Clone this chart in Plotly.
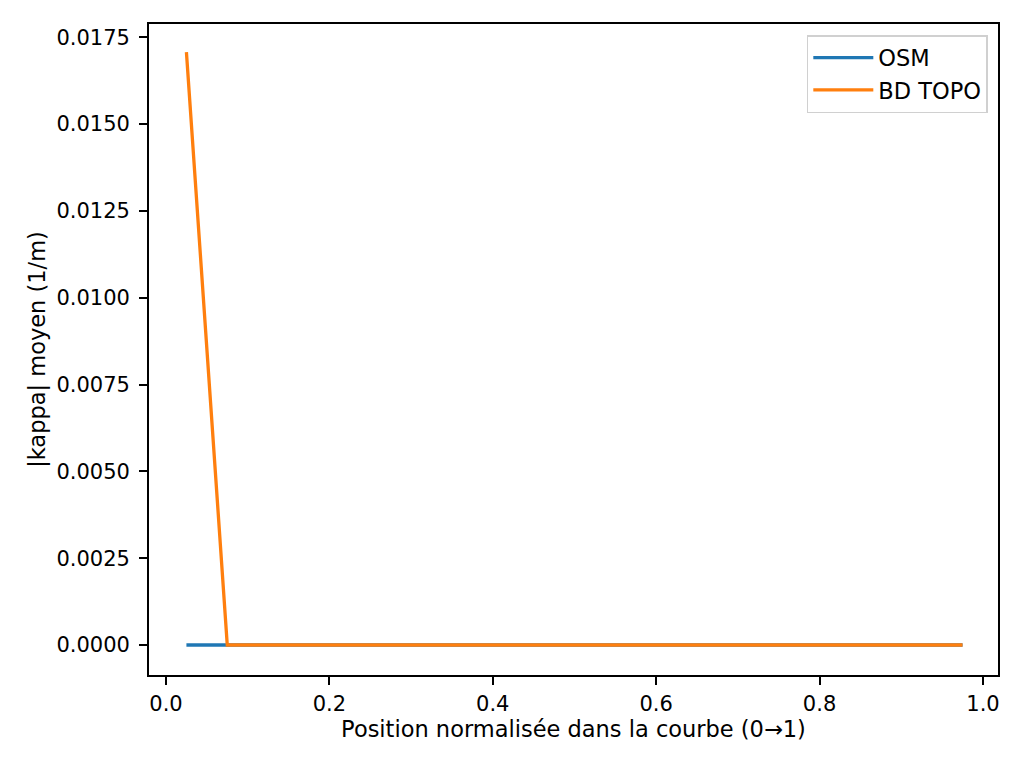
import plotly.graph_objects as go

positions = [0.025, 0.075, 0.125, 0.175, 0.225, 0.275, 0.325, 0.375, 0.425, 0.475,
             0.525, 0.575, 0.625, 0.675, 0.725, 0.775, 0.825, 0.875, 0.925, 0.975]
osm_kappa = [0.0] * 20
bdtopo_kappa = [0.01707] + [0.0] * 19

x_ticks = [0.0, 0.2, 0.4, 0.6, 0.8, 1.0]
y_ticks = [0.0, 0.0025, 0.005, 0.0075, 0.01, 0.0125, 0.015, 0.0175]

FONT = "DejaVu Sans"
FS_TICK = 21
FS_TEXT = 22.5
fig = go.Figure()
fig.add_trace(go.Scatter(x=positions, y=osm_kappa, mode="lines", name="OSM",
                         line=dict(color="#1f77b4", width=3.3)))
fig.add_trace(go.Scatter(x=positions, y=bdtopo_kappa, mode="lines", name="BD TOPO",
                         line=dict(color="#ff7f0e", width=3.3)))

axis_common = dict(showgrid=False, zeroline=False, showline=True, linecolor="black",
                   linewidth=1.8, mirror=True, ticks="outside", ticklen=8, tickwidth=1.8,
                   tickcolor="black", tickfont=dict(family=FONT, size=FS_TICK, color="black"))

fig.update_xaxes(range=[-0.0208, 1.0184], tickvals=x_ticks, tickformat=".1f",
                 title=dict(text="Position normalisée dans la courbe (0→1)",
                            font=dict(family=FONT, size=FS_TEXT, color="black"), standoff=6),
                 ticklabelstandoff=1, **axis_common)
fig.update_yaxes(range=[-0.000864, 0.01788], tickvals=y_ticks, tickformat=".4f",
                 title=dict(text="|kappa| moyen (1/m)",
                            font=dict(family=FONT, size=FS_TEXT, color="black"), standoff=5),
                 ticklabelstandoff=5, **axis_common)

fig.update_layout(
    width=1016, height=760,
    margin=dict(l=141, r=26, t=16, b=93),
    plot_bgcolor="white", paper_bgcolor="white",
    font=dict(family=FONT, size=FS_TEXT, color="black"),
    legend=dict(x=0.988, y=0.983, xanchor="right", yanchor="top",
                bordercolor="#d0d0d0", borderwidth=1.5, bgcolor="white",
                itemwidth=60,
                font=dict(family=FONT, size=FS_TEXT, color="black")),
)
fig.write_html("out.html")
